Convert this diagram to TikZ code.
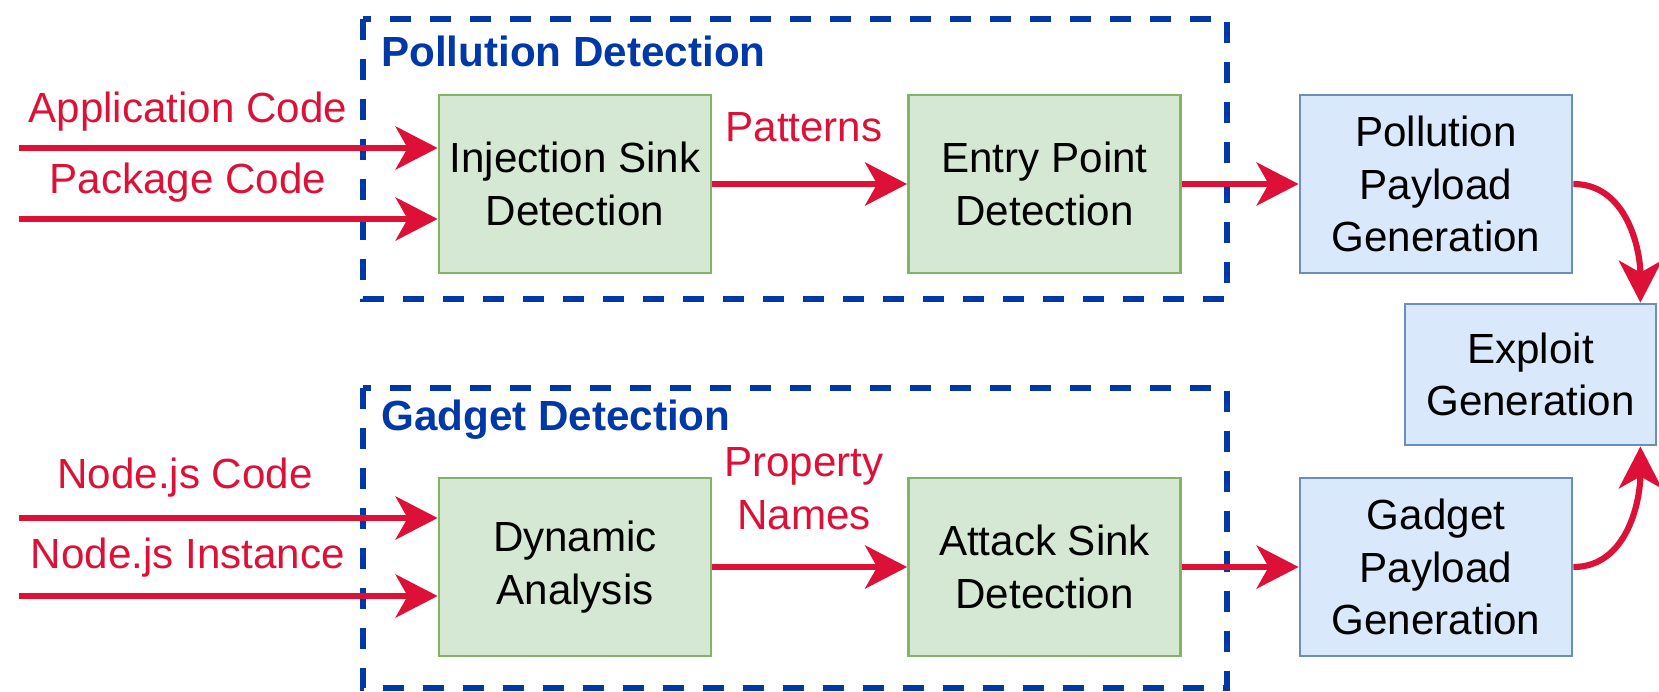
\documentclass[tikz,border=0pt]{standalone}
\usepackage{fontspec}
\setmainfont{Liberation Sans}
\usetikzlibrary{arrows.meta, positioning}
\definecolor{arrred}{RGB}{221,17,56}
\definecolor{dashblue}{RGB}{0,56,168}
\definecolor{greenfill}{RGB}{213,232,212}
\definecolor{greendraw}{RGB}{130,179,102}
\definecolor{bluefill}{RGB}{218,232,252}
\definecolor{bluedraw}{RGB}{108,142,191}

\begin{document}
\begin{tikzpicture}[x=0.02cm, y=-0.02cm,
    font=\fontsize{24}{30}\selectfont,
    stage/.style={draw=greendraw, fill=greenfill, line width=1.6pt,
        minimum width=5.44cm, minimum height=3.56cm, align=center, inner sep=0pt},
    gen/.style={draw=bluedraw, fill=bluefill, line width=1.6pt,
        minimum width=5.44cm, minimum height=3.56cm, align=center, inner sep=0pt},
    flow/.style={draw=arrred, line width=3.5pt,
        -{Stealth[length=0.84cm, width=0.86cm, inset=0.24cm]}},
    lbl/.style={text=arrred, align=center, inner sep=0pt},
    group/.style={draw=dashblue, line width=3.6pt, dash pattern=on 0.42cm off 0.38cm},
    grouptitle/.style={text=dashblue, font=\fontsize{24}{30}\selectfont\bfseries,
        anchor=west, inner sep=0pt}]
    \useasboundingbox (0,0) rectangle (1659,691);

    % Detection groups
    \draw[group] (363,19) rectangle (1227,299);
    \node[grouptitle] (tpol) at (381,51) {Pollution Detection};
    \draw[group] (363,388) rectangle (1227,688);
    \node[grouptitle] (tgad) at (381,420) {Gadget Detection};

    % Pollution stages
    \node[stage] (inj) at (575,184) {Injection Sink\\Detection};
    \node[stage] (entry) at (1044.5,184) {Entry Point\\Detection};
    \node[gen] (ppay) at (1436,184) {Pollution\\Payload\\Generation};

    % Gadget stages
    \node[stage] (dyn) at (575,567) {Dynamic\\Analysis};
    \node[stage] (attack) at (1044.5,567) {Attack Sink\\Detection};
    \node[gen] (gpay) at (1436,567) {Gadget\\Payload\\Generation};

    % Exploit
    \node[gen, minimum width=5.02cm, minimum height=2.82cm] (exploit) at (1530.5,374.5) {Exploit\\Generation};

    % Inputs
    \coordinate (app) at (19,148);
    \coordinate (pkg) at (19,219);
    \coordinate (njs) at (19,518);
    \coordinate (inst) at (19,596);
    \node[lbl] (lapp) at (188,112) {Application Code};
    \node[lbl] (lpkg) at (188,183) {Package Code};
    \node[lbl] (lnjs) at (185,478) {Node.js Code};
    \node[lbl] (linst) at (188,558) {Node.js Instance};
    \draw[flow] (app) -- (app -| inj.west);
    \draw[flow] (pkg) -- (pkg -| inj.west);
    \draw[flow] (njs) -- (njs -| dyn.west);
    \draw[flow] (inst) -- (inst -| dyn.west);

    % Between stages
    \node[lbl] (lpat) at (804,127) {Patterns};
    \node[lbl] (lprop) at (804,488.5) {Property\\Names};
    \draw[flow] (inj) -- (entry);
    \draw[flow] (entry) -- (ppay);
    \draw[flow] (dyn) -- (attack);
    \draw[flow] (attack) -- (gpay);

    % Into exploit
    \draw[flow] (ppay.east) to[out=0, in=90] ([xshift=-0.34cm]exploit.north east);
    \draw[flow] (gpay.east) to[out=0, in=-90] ([xshift=-0.34cm]exploit.south east);
\end{tikzpicture}
\end{document}
